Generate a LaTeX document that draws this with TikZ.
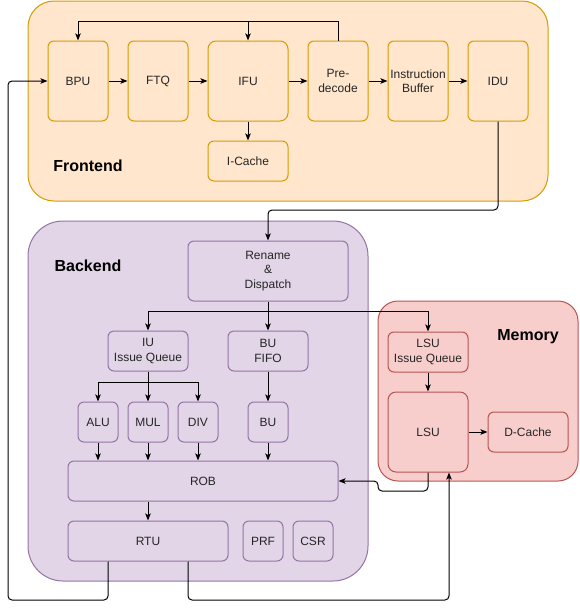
\documentclass[tikz,border=0pt]{standalone}
\usepackage{fontspec}
\setmainfont{Liberation Sans}
\usetikzlibrary{arrows.meta}
\definecolor{feFill}{HTML}{FFE6CC}
\definecolor{feLine}{HTML}{D79B00}
\definecolor{beFill}{HTML}{E1D5E7}
\definecolor{beLine}{HTML}{9673A6}
\definecolor{meFill}{HTML}{F8CECC}
\definecolor{meLine}{HTML}{B85450}
\begin{document}
\begin{tikzpicture}[x=1pt,y=-1pt, line width=1pt,
    font=\fontsize{12}{14.4}\selectfont,
    unit/.style={draw, rounded corners=6pt, align=center, inner sep=0pt, text=black!85},
    feunit/.style={unit, draw=feLine, fill=feFill},
    beunit/.style={unit, draw=beLine, fill=beFill},
    meunit/.style={unit, draw=meLine, fill=meFill},
    grouplabel/.style={font=\fontsize{16}{18}\selectfont\bfseries},
    arr/.style={-{Stealth[length=7pt,width=5.5pt,inset=1.5pt]}, black},
    wire/.style={black}]
    \useasboundingbox (0,0) rectangle (580,611);
    % groups
    \draw [feLine, fill=feFill, rounded corners=26pt] (28,1) rectangle (548,201);
    \draw [beLine, fill=beFill, rounded corners=35pt] (28,221) rectangle (368,581);
    \draw [meLine, fill=meFill, rounded corners=20pt] (378,301) rectangle (578,481);
    \node [grouplabel] (felbl) at (88,166) {Frontend};
    \node [grouplabel] (belbl) at (88,266) {Backend};
    \node [grouplabel] (melbl) at (528,337) {Memory};
    % frontend
    \node [feunit, minimum width=60pt, minimum height=80pt] (bpu) at (78,81) {BPU};
    \node [feunit, minimum width=60pt, minimum height=80pt] (ftq) at (158,81) {FTQ};
    \node [feunit, minimum width=80pt, minimum height=80pt, rounded corners=8pt] (ifu) at (248,81) {IFU};
    \node [feunit, minimum width=60pt, minimum height=80pt] (pre) at (338,81) {Pre-\\decode};
    \node [feunit, minimum width=60pt, minimum height=80pt] (ibuf) at (418,81) {Instruction\\Buffer};
    \node [feunit, minimum width=60pt, minimum height=80pt] (idu) at (498,81) {IDU};
    \node [feunit, minimum width=80pt, minimum height=40pt] (icache) at (248,161) {I-Cache};
    % backend
    \node [beunit, minimum width=160pt, minimum height=60pt] (rename) at (268,271) {Rename\\\&\\Dispatch};
    \node [beunit, minimum width=80pt, minimum height=40pt] (iuiq) at (148,351) {IU\\Issue Queue};
    \node [beunit, minimum width=80pt, minimum height=40pt] (bufifo) at (268,351) {BU\\FIFO};
    \node [beunit, minimum width=40pt, minimum height=40pt] (alu) at (98,422) {ALU};
    \node [beunit, minimum width=40pt, minimum height=40pt] (mul) at (148,422) {MUL};
    \node [beunit, minimum width=40pt, minimum height=40pt] (div) at (198,422) {DIV};
    \node [beunit, minimum width=40pt, minimum height=40pt] (bu) at (268,422) {BU};
    \node [beunit, minimum width=270pt, minimum height=40pt] (rob) at (203,481) {ROB};
    \node [beunit, minimum width=160pt, minimum height=40pt] (rtu) at (148,541) {RTU};
    \node [beunit, minimum width=40pt, minimum height=40pt] (prf) at (263,541) {PRF};
    \node [beunit, minimum width=40pt, minimum height=40pt] (csr) at (313,541) {CSR};
    % memory
    \node [meunit, minimum width=80pt, minimum height=40pt] (lsuiq) at (428,352) {LSU\\Issue Queue};
    \node [meunit, minimum width=80pt, minimum height=80pt, rounded corners=8pt] (lsu) at (428,432) {LSU};
    \node [meunit, minimum width=80pt, minimum height=40pt] (dcache) at (528,432) {D-Cache};
    % frontend pipeline
    \draw [arr] (bpu) -- (ftq);
    \draw [arr] (ftq) -- (ifu);
    \draw [arr] (ifu) -- (pre);
    \draw [arr] (pre) -- (ibuf);
    \draw [arr] (ibuf) -- (idu);
    \draw [arr] (ifu) -- (icache);
    \coordinate (redir) at (338,21);
    \draw [arr] (pre.north) -- (redir) -| (bpu.north);
    \draw [arr] (redir) -| (ifu.north);
    % frontend to backend
    \coordinate (fe2be) at (400,210);
    \draw [arr, rounded corners=4pt] (idu.south) |- (fe2be) -| (rename.north);
    % dispatch
    \coordinate (disp) at (268,311);
    \draw [wire] (rename.south) -- (disp);
    \draw [arr] (disp) -| (iuiq.north);
    \draw [arr] (disp) -- (bufifo.north);
    \draw [arr] (disp) -| (lsuiq.north);
    \coordinate (issue) at (148,382);
    \draw [wire] (iuiq.south) -- (issue);
    \draw [arr] (issue) -| (alu.north);
    \draw [arr] (issue) -- (mul.north);
    \draw [arr] (issue) -| (div.north);
    \draw [arr] (bufifo) -- (bu);
    \foreach \fu in {alu,mul,div,bu}
        \draw [arr] (\fu.south) -- (\fu.south |- rob.north);
    \draw [arr] (rob.south -| rtu.north) -- (rtu.north);
    \draw [arr] (lsuiq) -- (lsu);
    \draw [arr] (lsu) -- (dcache);
    % writeback from LSU
    \coordinate (wback) at (378,491);
    \draw [arr, rounded corners=4pt] (lsu.south) |- (wback) |- (rob.east);
    % retire loops
    \coordinate (retl) at (8,600);
    \coordinate (retr) at (449,600);
    \draw [arr, rounded corners=4pt] ([xshift=-40pt]rtu.south) |- (retl) |- (bpu.west);
    \draw [arr, rounded corners=4pt] ([xshift=40pt]rtu.south) |- (retr) -- (retr |- lsu.south);
\end{tikzpicture}
\end{document}
